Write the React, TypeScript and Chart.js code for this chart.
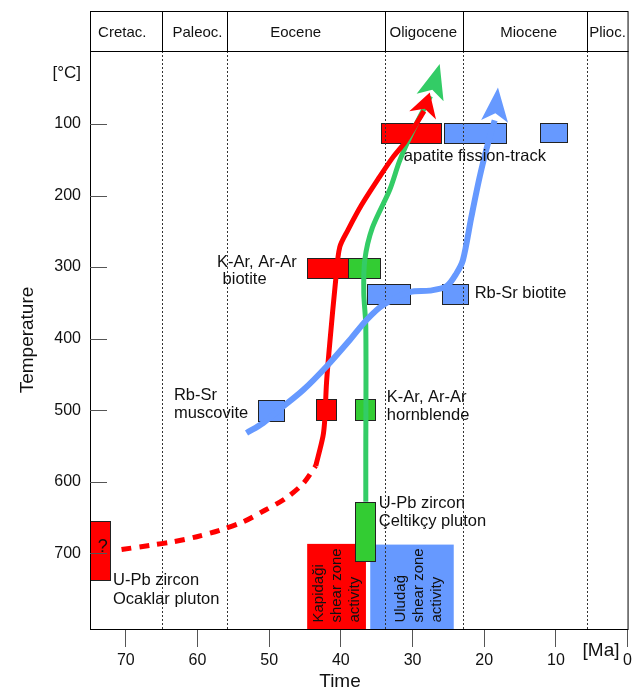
import React, { useEffect, useRef } from 'react';
import { Chart, registerables } from 'chart.js';

Chart.register(...registerables);

const FONT = '"Liberation Sans", Arial, Helvetica, sans-serif';

// ---- axes ----
const xTicks = [70, 60, 50, 40, 30, 20, 10, 0];
const yTicks = [100, 200, 300, 400, 500, 600, 700];
const xMin = 0;
const xMax = 75;
const yMin = -2;
const yMax = 806;

// ---- epochs (header band) ----
const epochNames = ['Cretac.', 'Paleoc.', 'Eocene', 'Oligocene', 'Miocene', 'Plioc.'];
const epochBoundaries = [65, 55.9, 33.9, 23, 5.6];
const epochLabelMa = [70.5, 60.0, 46.3, 28.5, 13.8, 2.8];

// ---- cooling paths (Ma, °C) ----
const redDashMa = [70.6, 66.6, 63.4, 60.1, 56.9, 53.6, 50.6, 47.8, 45.3, 43.5];
const redDashT = [695, 689, 684, 677, 668, 656, 640, 624, 603, 578];

const redMa = [43.5, 42.5, 42.25, 42.0, 41.55, 40.7, 40.15, 39.0, 37.1, 34.6, 32.7, 31.1, 28.4, 27.6];
const redT = [578, 537, 514, 462, 407, 316, 272, 248, 213, 174, 146, 126, 82, 56];

const greenMa = [36.52, 36.52, 36.52, 36.8, 36.66, 35.6, 33.18, 31.78, 29.93, 27.49, 26.21];
const greenT = [628, 570, 383, 336, 290, 245, 192, 151, 109, 61, 16];

const blueMa = [53.16, 50.84, 48.05, 45.26, 42.0, 38.75, 36.42, 34.11, 30.39, 27.6, 25.27, 23.88, 22.96, 21.79, 20.63, 19.47, 18.54, 18.08];
const blueT = [532, 518, 495, 472, 439, 402, 374, 353, 335, 333, 327, 309, 290, 230, 174, 127, 95, 49];

// ---- age/temperature boxes ----
const boxMaOld = [75, 34.4, 25.6, 12.2, 44.7, 39.0, 36.4, 25.9, 51.5, 43.5, 38.0, 38.0];
const boxMaYoung = [72.2, 26.0, 17.0, 8.5, 39.0, 34.6, 30.4, 22.3, 48.0, 40.7, 35.2, 35.2];
const boxTLow = [655, 99, 99, 99, 287, 287, 324, 324, 486, 485, 485, 629];
const boxTHigh = [737, 126, 126, 125, 316, 316, 352, 352, 515, 514, 514, 711];
const boxKind = ['red', 'red', 'blue', 'blue', 'red', 'green', 'blue', 'blue', 'blue', 'red', 'green', 'green'];

// ---- shear zone activity ----
const shearMaOld = [44.7, 35.9];
const shearMaYoung = [36.5, 24.25];
const shearTTop = [687, 688];
const shearKind = ['red', 'blue'];
const shearLabels = [['Kapidaği', 'shear zone', 'activity'], ['Uludağ', 'shear zone', 'activity']];
const shearLabelMa = [40.6, 29.1];
const shearLabelT = 797;

// ---- annotations ----
const annoText = ['K-Ar, Ar-Ar', 'biotite', 'Rb-Sr biotite', 'apatite fission-track', 'Rb-Sr', 'muscovite', 'K-Ar, Ar-Ar', 'hornblende', 'U-Pb zircon', 'Çeltikçy pluton', 'U-Pb zircon', 'Ocaklar pluton'];
const annoMa = [57.29, 56.5, 21.33, 31.22, 63.29, 63.29, 33.59, 33.59, 34.71, 34.71, 71.79, 71.79];
const annoT = [294, 318, 337, 146, 479, 504, 482, 507, 630, 656, 738, 765];
const questionMa = 73.23;
const questionT = 692;

const COLORS: Record<string, string> = {
  red: '#ff0000',
  green: '#33cc33',
  blue: '#6699ff',
};
const LINE_RED = '#ff0000';
const LINE_GREEN = '#33cc66';
const LINE_BLUE = '#6699ff';

const pts = (xs: number[], ys: number[]) => xs.map((x, i) => ({ x, y: ys[i] }));

function drawArrow(ctx: CanvasRenderingContext2D, x0: number, y0: number, x1: number, y1: number, len: number, width: number, notch: number, color: string) {
  const dx = x1 - x0;
  const dy = y1 - y0;
  const d = Math.hypot(dx, dy) || 1;
  const ux = dx / d;
  const uy = dy / d;
  const perpX = -uy;
  const perpY = ux;
  const bx = x1 - ux * len;
  const by = y1 - uy * len;
  const nx = x1 - ux * (len - notch);
  const ny = y1 - uy * (len - notch);
  ctx.beginPath();
  ctx.moveTo(x1, y1);
  ctx.lineTo(bx + perpX * width / 2, by + perpY * width / 2);
  ctx.lineTo(nx, ny);
  ctx.lineTo(bx - perpX * width / 2, by - perpY * width / 2);
  ctx.closePath();
  ctx.fillStyle = color;
  ctx.fill();
}

const decor = {
  id: 'decor',
  beforeDatasetsDraw(chart: any) {
    const { ctx, chartArea: a, scales } = chart;
    const X = (v: number) => scales.x.getPixelForValue(v);
    const Y = (v: number) => scales.y.getPixelForValue(v);
    ctx.save();
    ctx.beginPath();
    ctx.rect(a.left, a.top, a.right - a.left, a.bottom - a.top);
    ctx.clip();
    // shear zone bands
    shearMaOld.forEach((mo, i) => {
      const x0 = X(mo);
      const x1 = X(shearMaYoung[i]);
      const y0 = Y(shearTTop[i]);
      ctx.fillStyle = COLORS[shearKind[i]];
      ctx.fillRect(x0, y0, x1 - x0, a.bottom - y0);
    });
    // boxes
    boxMaOld.forEach((mo, i) => {
      const x0 = Math.round(X(mo)) + 0.5;
      const x1 = Math.round(X(boxMaYoung[i])) + 0.5;
      const y0 = Math.round(Y(boxTLow[i])) + 0.5;
      const y1 = Math.round(Y(boxTHigh[i])) + 0.5;
      ctx.fillStyle = COLORS[boxKind[i]];
      ctx.fillRect(x0, y0, x1 - x0, y1 - y0);
      ctx.lineWidth = 1;
      ctx.strokeStyle = '#222';
      ctx.strokeRect(x0, y0, x1 - x0, y1 - y0);
    });
    // epoch boundary dotted lines
    ctx.setLineDash([2, 2]);
    ctx.strokeStyle = '#333';
    ctx.lineWidth = 1;
    epochBoundaries.forEach((b) => {
      const x = Math.round(X(b)) + 0.5;
      ctx.beginPath();
      ctx.moveTo(x, a.top);
      ctx.lineTo(x, a.bottom);
      ctx.stroke();
    });
    ctx.setLineDash([]);
    ctx.restore();
  },
  afterDatasetsDraw(chart: any) {
    const { ctx, scales } = chart;
    const X = (v: number) => scales.x.getPixelForValue(v);
    const Y = (v: number) => scales.y.getPixelForValue(v);
    ctx.save();
    // arrowheads
    const arrow = (ma: number[], t: number[], len: number, w: number, notch: number, color: string) => {
      const n = ma.length;
      drawArrow(ctx, X(ma[n - 2]), Y(t[n - 2]), X(ma[n - 1]), Y(t[n - 1]), len, w, notch, color);
    };
    arrow(redMa, redT, 24, 28, 7, LINE_RED);
    arrow(blueMa, blueT, 34, 27, 8, LINE_BLUE);
    arrow(greenMa, greenT, 35, 28, 8, LINE_GREEN);

    // annotations
    ctx.fillStyle = '#111';
    ctx.font = `16.5px ${FONT}`;
    ctx.textAlign = 'left';
    ctx.textBaseline = 'middle';
    annoText.forEach((s, i) => ctx.fillText(s, X(annoMa[i]), Y(annoT[i])));
    ctx.font = `18px ${FONT}`;
    ctx.textAlign = 'center';
    ctx.fillText('?', X(questionMa), Y(questionT));

    // shear zone labels (rotated)
    ctx.font = `15px ${FONT}`;
    ctx.textAlign = 'left';
    shearLabels.forEach((lines, i) => {
      const cx = X(shearLabelMa[i]);
      const y = Y(shearLabelT);
      lines.forEach((s, j) => {
        ctx.save();
        ctx.translate(cx + (j - 1) * 18, y);
        ctx.rotate(-Math.PI / 2);
        ctx.fillText(s, 0, 0);
        ctx.restore();
      });
    });
    ctx.restore();
  },
  afterDraw(chart: any) {
    const { ctx, chartArea: a, scales } = chart;
    const X = (v: number) => scales.x.getPixelForValue(v);
    const Y = (v: number) => scales.y.getPixelForValue(v);
    ctx.save();
    const L = a.left + 0.5;
    const R = a.right + 0.5;
    const T = a.top + 0.5;
    const B = a.bottom + 0.5;
    const headTop = 3.5;
    ctx.strokeStyle = '#000';
    ctx.lineWidth = 1;
    // frame
    ctx.strokeRect(L, T, R - L, B - T);
    // header band
    ctx.strokeRect(L, headTop, R - L, T - headTop);
    epochBoundaries.forEach((b) => {
      const x = Math.round(X(b)) + 0.5;
      ctx.beginPath();
      ctx.moveTo(x, headTop);
      ctx.lineTo(x, T);
      ctx.stroke();
    });
    ctx.fillStyle = '#111';
    ctx.font = `15px ${FONT}`;
    ctx.textAlign = 'center';
    ctx.textBaseline = 'middle';
    epochNames.forEach((n, i) => ctx.fillText(n, X(epochLabelMa[i]), (headTop + T) / 2 + 1));

    // inward y tick marks
    ctx.strokeStyle = '#555';
    yTicks.forEach((t) => {
      const y = Math.round(Y(t)) + 0.5;
      ctx.beginPath();
      ctx.moveTo(a.left, y);
      ctx.lineTo(a.left + 17, y);
      ctx.stroke();
    });

    // unit labels and titles
    ctx.fillStyle = '#111';
    ctx.font = `17px ${FONT}`;
    ctx.textAlign = 'right';
    ctx.fillText('[°C]', a.left - 9, 65);
    ctx.font = `19px ${FONT}`;
    ctx.textAlign = 'center';
    ctx.fillText('[Ma]', 593, 643);
    ctx.fillText('Time', 332, 674);
    ctx.save();
    ctx.translate(20, (a.top + a.bottom) / 2);
    ctx.rotate(-Math.PI / 2);
    ctx.fillText('Temperature', 0, 0);
    ctx.restore();
    ctx.restore();
  },
};

export default function App() {
  const ref = useRef<HTMLCanvasElement>(null);
  useEffect(() => {
    if (!ref.current) return;
    const lineBase = { showLine: true, pointRadius: 0, pointHoverRadius: 0, fill: false, tension: 0.3, borderCapStyle: 'butt' as const };
    const chart = new Chart(ref.current, {
      type: 'scatter',
      data: {
        datasets: [
          { ...lineBase, label: 'red dashed', data: pts(redDashMa, redDashT), borderColor: LINE_RED, borderWidth: 5, borderDash: [10, 8] },
          { ...lineBase, label: 'blue', data: pts(blueMa, blueT).slice(0, -1), borderColor: LINE_BLUE, borderWidth: 6 },
          { ...lineBase, label: 'red', data: pts(redMa, redT).slice(0, -1), borderColor: LINE_RED, borderWidth: 5 },
          { ...lineBase, label: 'green', data: pts(greenMa, greenT).slice(0, -1), borderColor: LINE_GREEN, borderWidth: 5 },
        ],
      },
      options: {
        animation: false,
        responsive: true,
        maintainAspectRatio: false,
        layout: { padding: { top: 43, right: 8, left: 0, bottom: 0 } },
        plugins: { legend: { display: false }, tooltip: { enabled: false } },
        events: [],
        scales: {
          x: {
            type: 'linear',
            reverse: true,
            min: xMin,
            max: xMax,
            afterBuildTicks: (s: any) => { s.ticks = xTicks.map((v) => ({ value: v })); },
            afterFit: (s: any) => { s.height = 62; },
            border: { display: false },
            grid: { display: true, drawOnChartArea: false, drawTicks: true, tickLength: 18, color: '#555', lineWidth: 1 },
            ticks: { color: '#111', font: { family: FONT, size: 16 }, padding: 4, maxRotation: 0, autoSkip: false },
          },
          y: {
            type: 'linear',
            reverse: true,
            min: yMin,
            max: yMax,
            afterBuildTicks: (s: any) => { s.ticks = yTicks.map((v) => ({ value: v })); },
            afterFit: (s: any) => { s.width = 82; },
            border: { display: false },
            grid: { display: false, drawTicks: false },
            ticks: { color: '#111', font: { family: FONT, size: 16 }, padding: 9, autoSkip: false },
          },
        },
      },
      plugins: [decor],
    });
    return () => chart.destroy();
  }, []);
  return (
    <div style={{ width: 628, height: 683, position: 'relative' }}>
      <canvas ref={ref} />
    </div>
  );
}
